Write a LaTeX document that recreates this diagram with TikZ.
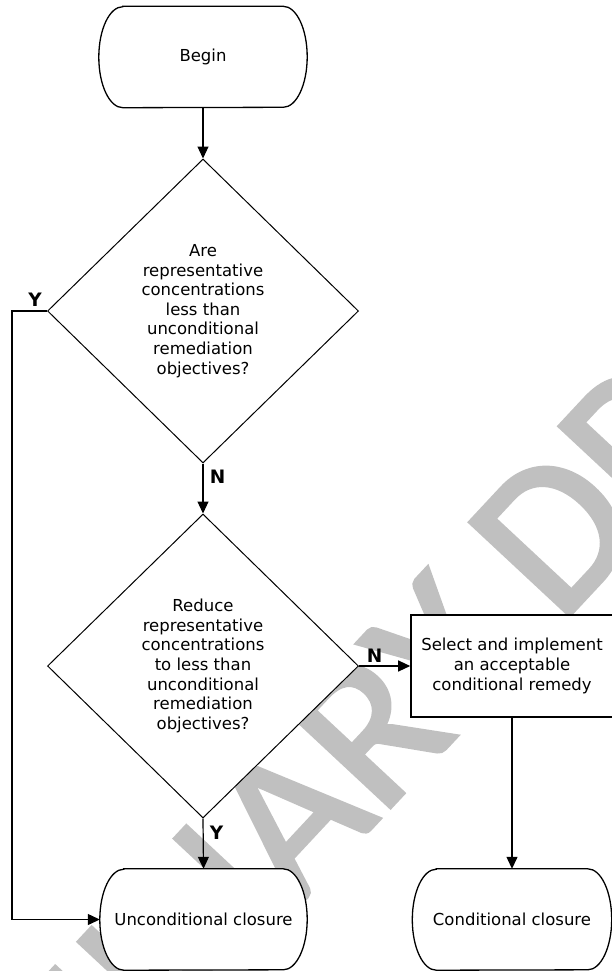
\documentclass[tikz,border=0pt]{standalone}
\usepackage{fontspec}
\setmainfont{DejaVu Sans}
\newfontfamily\wmfamily[FakeBold=2]{Carlito}
\usetikzlibrary{shapes.geometric,arrows.meta}
\definecolor{wmgray}{RGB}{192,192,192}
\pgfdeclarelayer{wm}
\pgfdeclarelayer{back}
\pgfsetlayers{wm,back,main}

\tikzset{
  txt/.style={font=\fontsize{16.5}{19.6}\selectfont, align=center, inner sep=0pt},
  decision/.style={txt, shape=diamond, draw, fill=white, line width=1pt,
    minimum width=311pt, minimum height=304pt},
  actionbox/.style={txt, draw, fill=white, line width=1.6pt,
    minimum width=202pt, minimum height=102pt},
  termnode/.style={txt, minimum width=#1, minimum height=101pt},
  termline/.style={draw, fill=white, line width=1.3pt},
  flow/.style={line width=1.2pt, -{Triangle[length=12pt,width=11pt]}},
  yn/.style={font=\fontsize{18.5}{20}\selectfont\bfseries, inner sep=0pt},
  wmark/.style={font=\wmfamily\fontsize{212}{212}\selectfont, text=wmgray,
    rotate=47, inner sep=0pt, anchor=base west}
}

% outline of a terminator: flat top and bottom, half-elliptic ends
\newcommand\termoutline[2]{%
  \path[termline] ([xshift=#2]#1.north west) -- ([xshift=-#2]#1.north east)
    arc[start angle=90,end angle=-90,x radius=#2,y radius=50.5pt]
    -- ([xshift=#2]#1.south west)
    arc[start angle=270,end angle=90,x radius=#2,y radius=50.5pt] -- cycle;}

\begin{document}
\begin{tikzpicture}[x=1pt,y=-1pt]
\useasboundingbox (0,0) rectangle (612,971);

% draft watermark behind everything
\begin{pgfonlayer}{wm}
  \begin{scope}
    \clip (0,0) rectangle (612,971);
    \node[wmark] (wmdraft) at (559.7,625.6) {DRAFT};
    \node[wmark, anchor=base east] (wmprelim) at (527,660.6) {PRELIMINARY};
  \end{scope}
\end{pgfonlayer}

% nodes
\node[termnode=208pt] (begin) at (203,57) {Begin};
\node[decision] (q1) at (203,311)
  {Are\\representative\\concentrations\\less than\\unconditional\\remediation\\objectives?};
\node[decision] (q2) at (203,666)
  {Reduce\\representative\\concentrations\\to less than\\unconditional\\remediation\\objectives?};
\node[actionbox] (remedy) at (512,666)
  {Select and implement\\an acceptable\\conditional remedy};
\node[termnode=207pt] (uncond) at (203.5,919.5) {Unconditional closure};
\node[termnode=199pt] (cond) at (512,919.5) {Conditional closure};

\begin{pgfonlayer}{back}
  \termoutline{begin}{24pt}
  \termoutline{uncond}{24pt}
  \termoutline{cond}{24pt}
\end{pgfonlayer}

% connectors
\coordinate (lft) at (12,0);
\draw[flow] (begin.south) -- (q1.north);
\draw[flow] (q1.south) -- (q2.north);
\draw[flow] (q1.west) -- (q1.west -| lft) |- (uncond.west);
\draw[flow] (q2.east) -- (remedy.west);
\draw[flow] (q2.south) -- (uncond.north);
\draw[flow] (remedy.south) -- (cond.north);

% branch labels
\node[yn] (y1) at (35,299.5) {Y};
\node[yn] (n1) at (217.5,477) {N};
\node[yn] (n2) at (374.5,655.5) {N};
\node[yn] (y2) at (216.5,833) {Y};
\end{tikzpicture}
\end{document}
